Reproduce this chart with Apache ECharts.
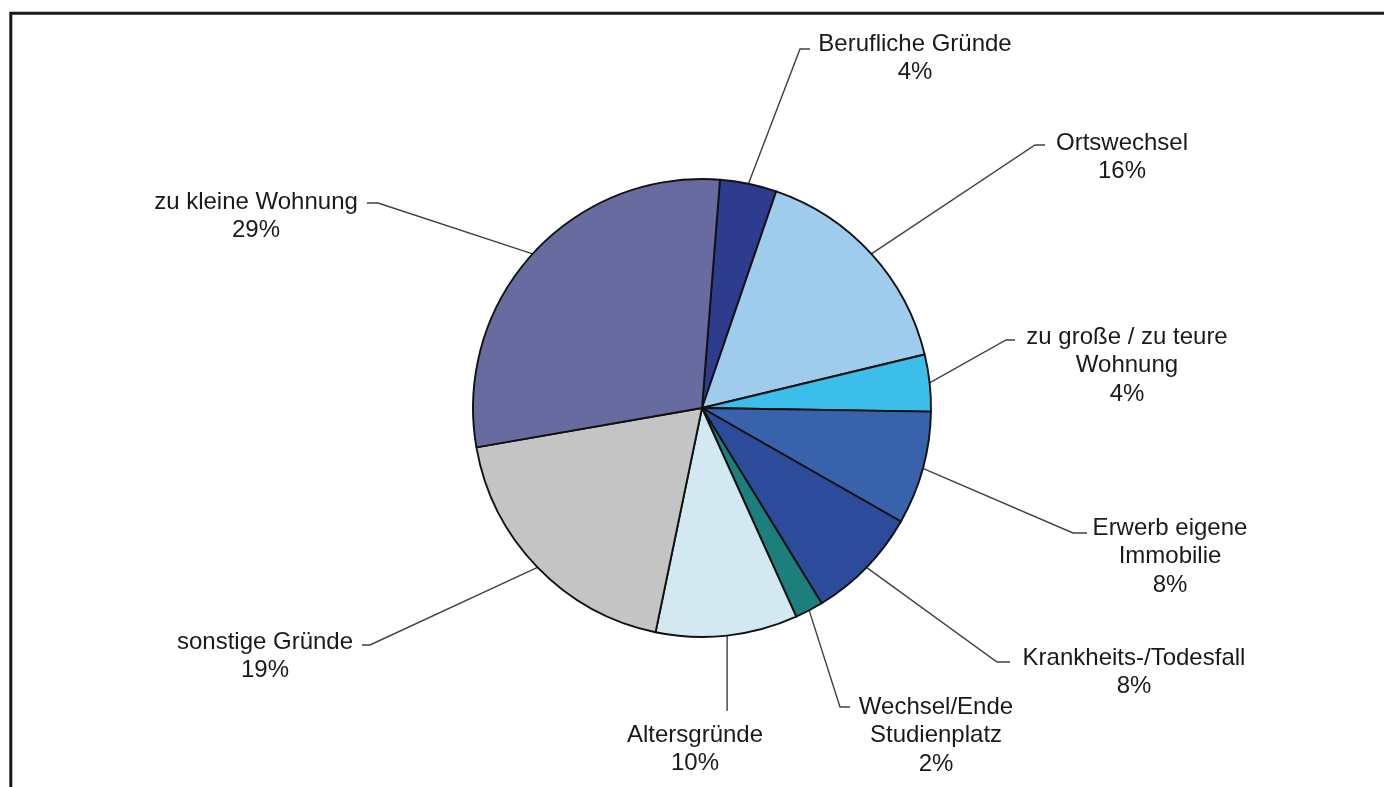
<!DOCTYPE html>
<html>
<head>
<meta charset="utf-8">
<script src="https://cdn.jsdelivr.net/npm/echarts@6/dist/echarts.min.js"></script>
<style>
  html, body { margin: 0; padding: 0; background: #ffffff; }
  #chart { width: 1384px; height: 787px; }
</style>
</head>
<body>
<div id="chart"></div>
<script>
// Gründe für den Umzug, Anteile in Prozent (im Uhrzeigersinn ab 12 Uhr)
const categories = [
  'Berufliche Gründe',
  'Ortswechsel',
  'zu große / zu teure\nWohnung',
  'Erwerb eigene\nImmobilie',
  'Krankheits-/Todesfall',
  'Wechsel/Ende\nStudienplatz',
  'Altersgründe',
  'sonstige Gründe',
  'zu kleine Wohnung'
];
const shares = [4, 16, 4, 8, 8, 2, 10, 19, 29];
const sliceColors = [
  '#2e3c8e', '#9fcbed', '#3cbeeb', '#3862ab', '#2d4b9b',
  '#1c7f7c', '#d3e9f1', '#c4c4c4', '#676b9f'
];

// Lage der Beschriftungen: Textmitte, Oberkante, Knick- und Endpunkt der Führungslinie
const labelSpots = [
  { x: 915,  y: 30,  knee: [800, 49],  end: [810, 49] },
  { x: 1122, y: 129, knee: [1035, 145], end: [1045, 145] },
  { x: 1127, y: 323, knee: [1006, 340], end: [1015, 340] },
  { x: 1170, y: 514, knee: [1073, 533], end: [1087, 533] },
  { x: 1134, y: 644, knee: [997, 662],  end: [1010, 662] },
  { x: 936,  y: 693, knee: [840, 707],  end: [850, 707] },
  { x: 695,  y: 721, knee: null,        end: [null, 711] },
  { x: 265,  y: 628, knee: [370, 645],  end: [362, 645] },
  { x: 256,  y: 188, knee: [378, 203],  end: [367, 203] }
];

const chart = echarts.init(document.getElementById('chart'), null, { renderer: 'canvas' });

const pieCenter = [702, 408];
const pieRadius = 229;
const startAngle = 85.5;

chart.setOption({
  backgroundColor: '#ffffff',
  animation: false,
  graphic: [{
    type: 'rect',
    shape: { x: 10.8, y: 13.2, width: 2000, height: 2000 },
    style: { fill: 'none', stroke: '#1a1a1a', lineWidth: 3 },
    silent: true
  }],
  series: [{
    type: 'pie',
    center: pieCenter,
    radius: pieRadius,
    startAngle: startAngle,
    clockwise: true,
    avoidLabelOverlap: false,
    data: categories.map((name, i) => ({
      name: name,
      value: shares[i],
      itemStyle: { color: sliceColors[i] }
    })),
    itemStyle: { borderColor: '#111111', borderWidth: 1.9 },
    label: {
      show: true,
      position: 'outside',
      formatter: '{b}\n{c}%',
      fontFamily: '"Liberation Sans", Arial, sans-serif',
      fontSize: 24,
      lineHeight: 28.5,
      color: '#1a1a1a',
      align: 'center'
    },
    labelLine: {
      show: true,
      length: 20,
      length2: 10,
      lineStyle: { color: '#404040', width: 1.4 }
    },
    emphasis: { disabled: true },
    labelLayout: function (params) {
      const spot = labelSpots[params.dataIndex];
      let p1 = params.labelLinePoints && params.labelLinePoints[0];
      if (!p1) {
        // Mittelwinkel des Segments als Ansatzpunkt der Linie
        const total = shares.reduce((a, b) => a + b, 0);
        const before = shares.slice(0, params.dataIndex).reduce((a, b) => a + b, 0);
        const mid = (startAngle - (before + shares[params.dataIndex] / 2) / total * 360) * Math.PI / 180;
        p1 = [pieCenter[0] + pieRadius * Math.cos(mid), pieCenter[1] - pieRadius * Math.sin(mid)];
      }
      let pts;
      if (spot.knee) {
        pts = [p1, spot.knee, spot.end];
      } else {
        const bottom = [p1[0], spot.end[1]];
        pts = [p1, bottom, bottom];
      }
      return {
        x: spot.x,
        y: spot.y,
        align: 'center',
        verticalAlign: 'top',
        labelLinePoints: pts
      };
    }
  }]
});
</script>
</body>
</html>
